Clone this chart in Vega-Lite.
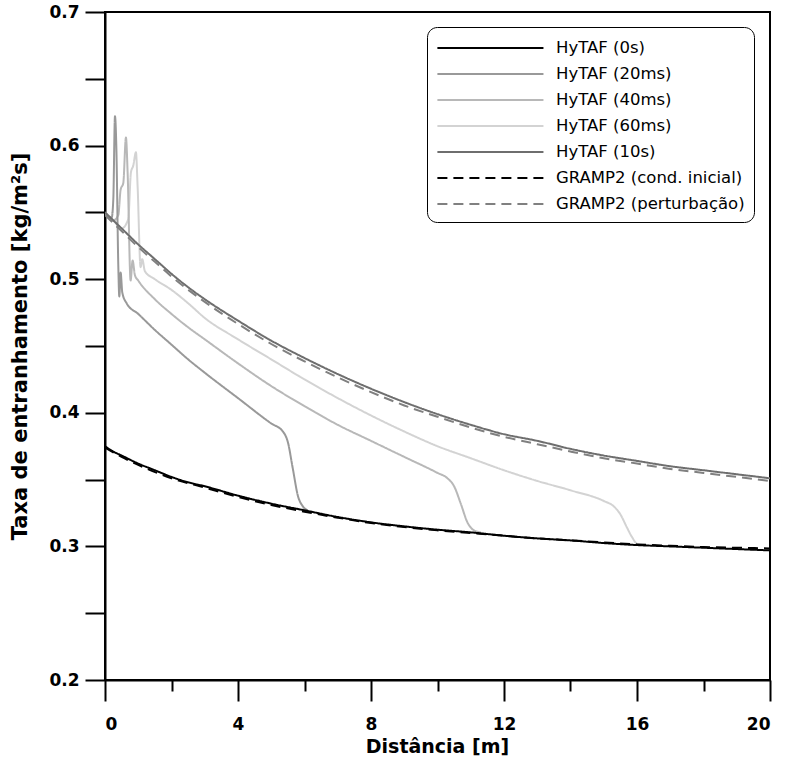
{
  "$schema": "https://vega.github.io/schema/vega-lite/v6.json",
  "width": 665,
  "height": 668,
  "autosize": {"type": "none"},
  "padding": {"left": 105, "top": 12, "right": 15, "bottom": 79},
  "background": "white",
  "config": {
    "view": {"stroke": "black", "strokeWidth": 2},
    "axis": {"grid": false, "domainColor": "black", "domainWidth": 2, "tickColor": "black", "tickWidth": 2, "labelColor": "black", "titleColor": "black"},
    "legend": {"orient": "none"}
  },
  "data": {"values": [
    {"s":"HyTAF (60ms)","x":0,"y":0.55},{"s":"HyTAF (60ms)","x":0.25,"y":0.544},{"s":"HyTAF (60ms)","x":0.5,"y":0.538},{"s":"HyTAF (60ms)","x":0.7,"y":0.545},{"s":"HyTAF (60ms)","x":0.78,"y":0.58},{"s":"HyTAF (60ms)","x":0.85,"y":0.585},{"s":"HyTAF (60ms)","x":0.93,"y":0.595},{"s":"HyTAF (60ms)","x":0.98,"y":0.57},{"s":"HyTAF (60ms)","x":1.07,"y":0.509},{"s":"HyTAF (60ms)","x":1.12,"y":0.515},{"s":"HyTAF (60ms)","x":1.2,"y":0.506},{"s":"HyTAF (60ms)","x":1.5,"y":0.5},{"s":"HyTAF (60ms)","x":2,"y":0.492},{"s":"HyTAF (60ms)","x":2.5,"y":0.482},{"s":"HyTAF (60ms)","x":3,"y":0.471},{"s":"HyTAF (60ms)","x":4,"y":0.455},{"s":"HyTAF (60ms)","x":5,"y":0.44},{"s":"HyTAF (60ms)","x":6,"y":0.425},{"s":"HyTAF (60ms)","x":7,"y":0.411},{"s":"HyTAF (60ms)","x":8,"y":0.398},{"s":"HyTAF (60ms)","x":9,"y":0.386},{"s":"HyTAF (60ms)","x":10,"y":0.375},{"s":"HyTAF (60ms)","x":11,"y":0.366},{"s":"HyTAF (60ms)","x":12,"y":0.357},{"s":"HyTAF (60ms)","x":13,"y":0.349},{"s":"HyTAF (60ms)","x":14,"y":0.342},{"s":"HyTAF (60ms)","x":15,"y":0.334},{"s":"HyTAF (60ms)","x":15.3,"y":0.33},{"s":"HyTAF (60ms)","x":15.5,"y":0.324},{"s":"HyTAF (60ms)","x":15.7,"y":0.314},{"s":"HyTAF (60ms)","x":15.85,"y":0.307},{"s":"HyTAF (60ms)","x":16,"y":0.302},{"s":"HyTAF (60ms)","x":16.2,"y":0.301},
    {"s":"HyTAF (40ms)","x":0,"y":0.55},{"s":"HyTAF (40ms)","x":0.25,"y":0.544},{"s":"HyTAF (40ms)","x":0.4,"y":0.548},{"s":"HyTAF (40ms)","x":0.47,"y":0.567},{"s":"HyTAF (40ms)","x":0.55,"y":0.572},{"s":"HyTAF (40ms)","x":0.63,"y":0.606},{"s":"HyTAF (40ms)","x":0.68,"y":0.58},{"s":"HyTAF (40ms)","x":0.77,"y":0.499},{"s":"HyTAF (40ms)","x":0.83,"y":0.514},{"s":"HyTAF (40ms)","x":0.9,"y":0.503},{"s":"HyTAF (40ms)","x":1,"y":0.499},{"s":"HyTAF (40ms)","x":1.5,"y":0.485},{"s":"HyTAF (40ms)","x":2,"y":0.474},{"s":"HyTAF (40ms)","x":2.5,"y":0.464},{"s":"HyTAF (40ms)","x":3,"y":0.455},{"s":"HyTAF (40ms)","x":4,"y":0.437},{"s":"HyTAF (40ms)","x":5,"y":0.42},{"s":"HyTAF (40ms)","x":6,"y":0.405},{"s":"HyTAF (40ms)","x":7,"y":0.391},{"s":"HyTAF (40ms)","x":8,"y":0.379},{"s":"HyTAF (40ms)","x":9,"y":0.367},{"s":"HyTAF (40ms)","x":10,"y":0.355},{"s":"HyTAF (40ms)","x":10.3,"y":0.351},{"s":"HyTAF (40ms)","x":10.5,"y":0.345},{"s":"HyTAF (40ms)","x":10.7,"y":0.332},{"s":"HyTAF (40ms)","x":10.9,"y":0.318},{"s":"HyTAF (40ms)","x":11.1,"y":0.312},{"s":"HyTAF (40ms)","x":11.3,"y":0.3105},
    {"s":"HyTAF (20ms)","x":0,"y":0.55},{"s":"HyTAF (20ms)","x":0.1,"y":0.547},{"s":"HyTAF (20ms)","x":0.2,"y":0.546},{"s":"HyTAF (20ms)","x":0.25,"y":0.56},{"s":"HyTAF (20ms)","x":0.3,"y":0.622},{"s":"HyTAF (20ms)","x":0.34,"y":0.6},{"s":"HyTAF (20ms)","x":0.4,"y":0.51},{"s":"HyTAF (20ms)","x":0.43,"y":0.487},{"s":"HyTAF (20ms)","x":0.47,"y":0.505},{"s":"HyTAF (20ms)","x":0.52,"y":0.49},{"s":"HyTAF (20ms)","x":0.65,"y":0.482},{"s":"HyTAF (20ms)","x":1,"y":0.474},{"s":"HyTAF (20ms)","x":1.5,"y":0.462},{"s":"HyTAF (20ms)","x":2,"y":0.451},{"s":"HyTAF (20ms)","x":2.5,"y":0.44},{"s":"HyTAF (20ms)","x":3,"y":0.43},{"s":"HyTAF (20ms)","x":4,"y":0.411},{"s":"HyTAF (20ms)","x":5,"y":0.392},{"s":"HyTAF (20ms)","x":5.35,"y":0.386},{"s":"HyTAF (20ms)","x":5.5,"y":0.378},{"s":"HyTAF (20ms)","x":5.65,"y":0.358},{"s":"HyTAF (20ms)","x":5.8,"y":0.338},{"s":"HyTAF (20ms)","x":5.95,"y":0.33},{"s":"HyTAF (20ms)","x":6.1,"y":0.327},
    {"s":"HyTAF (10s)","x":0,"y":0.55},{"s":"HyTAF (10s)","x":0.25,"y":0.544},{"s":"HyTAF (10s)","x":0.5,"y":0.538},{"s":"HyTAF (10s)","x":1,"y":0.526},{"s":"HyTAF (10s)","x":1.5,"y":0.515},{"s":"HyTAF (10s)","x":2,"y":0.504},{"s":"HyTAF (10s)","x":2.5,"y":0.494},{"s":"HyTAF (10s)","x":3,"y":0.485},{"s":"HyTAF (10s)","x":4,"y":0.469},{"s":"HyTAF (10s)","x":5,"y":0.454},{"s":"HyTAF (10s)","x":6,"y":0.441},{"s":"HyTAF (10s)","x":7,"y":0.429},{"s":"HyTAF (10s)","x":8,"y":0.418},{"s":"HyTAF (10s)","x":9,"y":0.408},{"s":"HyTAF (10s)","x":10,"y":0.399},{"s":"HyTAF (10s)","x":11,"y":0.391},{"s":"HyTAF (10s)","x":12,"y":0.384},{"s":"HyTAF (10s)","x":13,"y":0.379},{"s":"HyTAF (10s)","x":14,"y":0.373},{"s":"HyTAF (10s)","x":15,"y":0.368},{"s":"HyTAF (10s)","x":16,"y":0.364},{"s":"HyTAF (10s)","x":17,"y":0.36},{"s":"HyTAF (10s)","x":18,"y":0.357},{"s":"HyTAF (10s)","x":19,"y":0.354},{"s":"HyTAF (10s)","x":20,"y":0.351},
    {"s":"GRAMP2 (perturbação)","x":0,"y":0.548},{"s":"GRAMP2 (perturbação)","x":0.5,"y":0.536},{"s":"GRAMP2 (perturbação)","x":1,"y":0.524},{"s":"GRAMP2 (perturbação)","x":1.5,"y":0.513},{"s":"GRAMP2 (perturbação)","x":2,"y":0.502},{"s":"GRAMP2 (perturbação)","x":3,"y":0.483},{"s":"GRAMP2 (perturbação)","x":4,"y":0.4665},{"s":"GRAMP2 (perturbação)","x":5,"y":0.4515},{"s":"GRAMP2 (perturbação)","x":6,"y":0.4385},{"s":"GRAMP2 (perturbação)","x":7,"y":0.4265},{"s":"GRAMP2 (perturbação)","x":8,"y":0.4155},{"s":"GRAMP2 (perturbação)","x":9,"y":0.4055},{"s":"GRAMP2 (perturbação)","x":10,"y":0.397},{"s":"GRAMP2 (perturbação)","x":11,"y":0.389},{"s":"GRAMP2 (perturbação)","x":12,"y":0.382},{"s":"GRAMP2 (perturbação)","x":13,"y":0.3765},{"s":"GRAMP2 (perturbação)","x":14,"y":0.371},{"s":"GRAMP2 (perturbação)","x":15,"y":0.366},{"s":"GRAMP2 (perturbação)","x":16,"y":0.362},{"s":"GRAMP2 (perturbação)","x":17,"y":0.358},{"s":"GRAMP2 (perturbação)","x":18,"y":0.355},{"s":"GRAMP2 (perturbação)","x":19,"y":0.352},{"s":"GRAMP2 (perturbação)","x":20,"y":0.349},
    {"s":"HyTAF (0s)","x":0,"y":0.375},{"s":"HyTAF (0s)","x":0.25,"y":0.371},{"s":"HyTAF (0s)","x":0.5,"y":0.368},{"s":"HyTAF (0s)","x":1,"y":0.362},{"s":"HyTAF (0s)","x":1.5,"y":0.357},{"s":"HyTAF (0s)","x":2,"y":0.352},{"s":"HyTAF (0s)","x":2.5,"y":0.348},{"s":"HyTAF (0s)","x":3,"y":0.345},{"s":"HyTAF (0s)","x":4,"y":0.338},{"s":"HyTAF (0s)","x":5,"y":0.332},{"s":"HyTAF (0s)","x":6,"y":0.327},{"s":"HyTAF (0s)","x":7,"y":0.322},{"s":"HyTAF (0s)","x":8,"y":0.318},{"s":"HyTAF (0s)","x":9,"y":0.315},{"s":"HyTAF (0s)","x":10,"y":0.3125},{"s":"HyTAF (0s)","x":11,"y":0.3105},{"s":"HyTAF (0s)","x":12,"y":0.308},{"s":"HyTAF (0s)","x":13,"y":0.306},{"s":"HyTAF (0s)","x":14,"y":0.3045},{"s":"HyTAF (0s)","x":15,"y":0.3025},{"s":"HyTAF (0s)","x":16,"y":0.301},{"s":"HyTAF (0s)","x":17,"y":0.3},{"s":"HyTAF (0s)","x":18,"y":0.299},{"s":"HyTAF (0s)","x":19,"y":0.298},{"s":"HyTAF (0s)","x":20,"y":0.297},
    {"s":"GRAMP2 (cond. inicial)","x":0,"y":0.374},{"s":"GRAMP2 (cond. inicial)","x":0.5,"y":0.367},{"s":"GRAMP2 (cond. inicial)","x":1,"y":0.361},{"s":"GRAMP2 (cond. inicial)","x":2,"y":0.351},{"s":"GRAMP2 (cond. inicial)","x":3,"y":0.344},{"s":"GRAMP2 (cond. inicial)","x":4,"y":0.337},{"s":"GRAMP2 (cond. inicial)","x":5,"y":0.331},{"s":"GRAMP2 (cond. inicial)","x":6,"y":0.326},{"s":"GRAMP2 (cond. inicial)","x":7,"y":0.3215},{"s":"GRAMP2 (cond. inicial)","x":8,"y":0.3175},{"s":"GRAMP2 (cond. inicial)","x":9,"y":0.3145},{"s":"GRAMP2 (cond. inicial)","x":10,"y":0.312},{"s":"GRAMP2 (cond. inicial)","x":11,"y":0.31},{"s":"GRAMP2 (cond. inicial)","x":12,"y":0.308},{"s":"GRAMP2 (cond. inicial)","x":13,"y":0.306},{"s":"GRAMP2 (cond. inicial)","x":14,"y":0.3045},{"s":"GRAMP2 (cond. inicial)","x":15,"y":0.303},{"s":"GRAMP2 (cond. inicial)","x":16,"y":0.3015},{"s":"GRAMP2 (cond. inicial)","x":17,"y":0.3005},{"s":"GRAMP2 (cond. inicial)","x":18,"y":0.2995},{"s":"GRAMP2 (cond. inicial)","x":19,"y":0.299},{"s":"GRAMP2 (cond. inicial)","x":20,"y":0.2985}
  ]},
  "mark": {"type": "line", "strokeWidth": 2, "interpolate": "monotone", "clip": true},
  "encoding": {
    "x": {"field": "x", "type": "quantitative",
      "scale": {"domain": [0, 20], "nice": false, "zero": false},
      "axis": {"values": [0, 2, 4, 6, 8, 10, 12, 14, 16, 18, 20],
        "tickSize": {"condition": {"test": "datum.value % 4 == 0", "value": 21}, "value": 11},
        "labelExpr": "datum.value % 4 == 0 ? datum.label : ''",
        "labelFont": "DejaVu Sans", "labelFontWeight": "bold", "labelFontSize": 17, "labelPadding": 15,
        "title": "Distância [m]", "titleFont": "DejaVu Sans", "titleFontWeight": "bold", "titleFontSize": 19,
        "titleX": 332, "titleY": 66, "titleBaseline": "middle", "titleAnchor": "middle"}},
    "y": {"field": "y", "type": "quantitative",
      "scale": {"domain": [0.2, 0.7], "nice": false, "zero": false},
      "axis": {"values": [0.2, 0.25, 0.3, 0.35, 0.4, 0.45, 0.5, 0.55, 0.6, 0.65, 0.7],
        "tickSize": 20,
        "labelExpr": "round(datum.value * 20) % 2 == 0 ? format(datum.value, '.1f') : ''",
        "labelFont": "DejaVu Sans", "labelFontWeight": "bold", "labelFontSize": 17, "labelPadding": 6,
        "title": "Taxa de entranhamento [kg/m²s]", "titleFont": "DejaVu Sans", "titleFontWeight": "bold", "titleFontSize": 21,
        "titleX": -85, "titleY": 334, "titleAngle": 270, "titleBaseline": "middle", "titleAnchor": "middle"}},
    "color": {"field": "s", "type": "nominal",
      "scale": {"domain": ["HyTAF (0s)", "HyTAF (20ms)", "HyTAF (40ms)", "HyTAF (60ms)", "HyTAF (10s)", "GRAMP2 (cond. inicial)", "GRAMP2 (perturbação)"],
        "range": ["#000000", "#999999", "#b8b8b8", "#d3d3d3", "#6e6e6e", "#000000", "#808080"]},
      "legend": {"title": null, "orient": "none", "legendX": 322, "legendY": 15,
        "symbolType": "M-1,0L9,0", "symbolSize": 450, "symbolStrokeWidth": 2,
        "labelFont": "DejaVu Sans", "labelFontSize": 16.5, "labelColor": "black", "labelOffset": 96, "labelLimit": 400,
        "rowPadding": 5, "padding": 9, "strokeColor": "black", "cornerRadius": 10, "fillColor": "white"}},
    "strokeDash": {"field": "s", "type": "nominal",
      "scale": {"domain": ["HyTAF (0s)", "HyTAF (20ms)", "HyTAF (40ms)", "HyTAF (60ms)", "HyTAF (10s)", "GRAMP2 (cond. inicial)", "GRAMP2 (perturbação)"],
        "range": [[1, 0], [1, 0], [1, 0], [1, 0], [1, 0], [10, 6], [10, 6]]},
      "legend": {"title": null}},
    "order": {"value": 0}
  }
}
